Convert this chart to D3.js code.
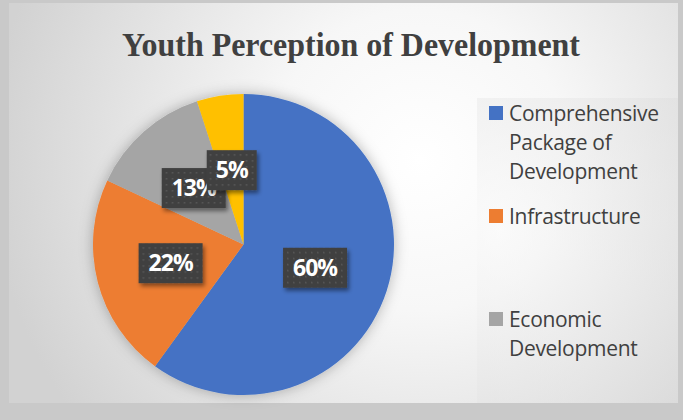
<!DOCTYPE html>
<html>
<head>
<meta charset="utf-8">
<script src="https://cdn.jsdelivr.net/npm/d3@7"></script>
<style>
  html, body { margin: 0; padding: 0; background: #c9c9c9; }
  svg { display: block; }
</style>
</head>
<body>
<div id="chart"></div>
<script>
// Survey shares, clockwise from 12 o'clock
const categories = ["Comprehensive Package of Development", "Infrastructure", "Economic Development", "Other"];
const shares = [60, 22, 13, 5];
const sliceColors = ["#4472c4", "#ed7d31", "#a5a5a5", "#ffc000"];
// Legend rows (wrapped text lines per entry)
const legendLines = [
  ["Comprehensive", "Package of", "Development"],
  ["Infrastructure"],
  ["Economic", "Development"]
];
const titleText = "Youth Perception of Development";

const W = 683, H = 420;
const svg = d3.select("#chart").append("svg").attr("width", W).attr("height", H);
const defs = svg.append("defs");

// Chart area background: soft radial wash
const bg = defs.append("radialGradient").attr("id", "bgGrad")
  .attr("gradientUnits", "userSpaceOnUse")
  .attr("cx", 420).attr("cy", 160).attr("r", 430);
bg.append("stop").attr("offset", "0%").attr("stop-color", "#ffffff");
bg.append("stop").attr("offset", "35%").attr("stop-color", "#f7f7f7");
bg.append("stop").attr("offset", "100%").attr("stop-color", "#d2d2d2");

const lg = defs.append("radialGradient").attr("id", "legGrad")
  .attr("gradientUnits", "userSpaceOnUse")
  .attr("cx", 500).attr("cy", 230).attr("r", 260);
lg.append("stop").attr("offset", "0%").attr("stop-color", "#fbfbfb");
lg.append("stop").attr("offset", "100%").attr("stop-color", "#d9d9d9");

// Halo around the pie
const halo = defs.append("filter").attr("id", "pieShadow")
  .attr("x", "-20%").attr("y", "-20%").attr("width", "140%").attr("height", "140%");
halo.append("feDropShadow").attr("dx", 0).attr("dy", 0)
  .attr("stdDeviation", 7).attr("flood-color", "#000").attr("flood-opacity", 0.28);

// Shadow under the value labels
const lblShadow = defs.append("filter").attr("id", "lblShadow")
  .attr("x", "-20%").attr("y", "-20%").attr("width", "150%").attr("height", "160%");
lblShadow.append("feDropShadow").attr("dx", 2).attr("dy", 3)
  .attr("stdDeviation", 2).attr("flood-color", "#000").attr("flood-opacity", 0.45);

// Dotted texture for the label boxes
const pat = defs.append("pattern").attr("id", "dots")
  .attr("patternUnits", "userSpaceOnUse").attr("width", 6).attr("height", 6);
pat.append("rect").attr("width", 6).attr("height", 6).attr("fill", "#404040");
pat.append("rect").attr("x", 2).attr("y", 2).attr("width", 1.5).attr("height", 1.5).attr("fill", "#5a5a5a");

// Chart area
svg.append("rect").attr("x", 9).attr("y", 3).attr("width", 669).attr("height", 400)
  .attr("fill", "url(#bgGrad)");
svg.append("rect").attr("x", 477).attr("y", 98).attr("width", 201).attr("height", 305)
  .attr("fill", "url(#legGrad)").attr("opacity", 0.55);

// Title
svg.append("text")
  .attr("x", 351).attr("y", 56)
  .attr("text-anchor", "middle")
  .attr("font-family", "'Liberation Serif', 'Times New Roman', serif")
  .attr("font-weight", "bold")
  .attr("font-size", 34)
  .attr("textLength", 458)
  .attr("lengthAdjust", "spacingAndGlyphs")
  .attr("fill", "#404040")
  .text(titleText);

// Pie
const cx = 243.5, cy = 244.5, R = 150.5;
const pie = d3.pie().sort(null).value(d => d)(shares);
const arc = d3.arc().innerRadius(0).outerRadius(R);
const labelArc = d3.arc().innerRadius(R * 0.5).outerRadius(R * 0.5);

const g = svg.append("g").attr("transform", `translate(${cx},${cy})`);
g.append("g").attr("filter", "url(#pieShadow)")
  .selectAll("path").data(pie).join("path")
  .attr("d", arc)
  .attr("fill", (d, i) => sliceColors[i]);

// Value labels
const labelFont = "'Open Sans', 'Noto Sans', sans-serif";
const labels = g.append("g").selectAll("g").data(pie).join("g")
  .attr("transform", d => { const [x, y] = labelArc.centroid(d); return `translate(${x},${y})`; });
labels.each(function(d) {
  const sel = d3.select(this);
  const txt = d.data + "%";
  const w = txt.length >= 3 ? 64 : 50;
  const h = 40;
  sel.append("rect")
    .attr("x", -w / 2).attr("y", -h / 2).attr("width", w).attr("height", h)
    .attr("fill", "url(#dots)")
    .attr("filter", "url(#lblShadow)");
  sel.append("text")
    .attr("text-anchor", "middle")
    .attr("dy", "0.36em")
    .attr("font-family", labelFont)
    .attr("font-weight", "bold")
    .attr("font-size", 23)
    .attr("letter-spacing", -1)
    .attr("fill", "#ffffff")
    .text(txt);
});

// Legend
const legTop = [106, 209, 312];
const leg = svg.append("g");
legendLines.forEach((lines, i) => {
  const y0 = legTop[i];
  leg.append("rect").attr("x", 489).attr("y", y0).attr("width", 14).attr("height", 14)
    .attr("fill", sliceColors[i]);
  const t = leg.append("text")
    .attr("font-family", labelFont)
    .attr("font-size", 21)
    .attr("letter-spacing", -0.3)
    .attr("fill", "#404040");
  lines.forEach((ln, j) => {
    t.append("tspan").attr("x", 509).attr("y", y0 + 15 + j * 29).text(ln);
  });
});
</script>
</body>
</html>
